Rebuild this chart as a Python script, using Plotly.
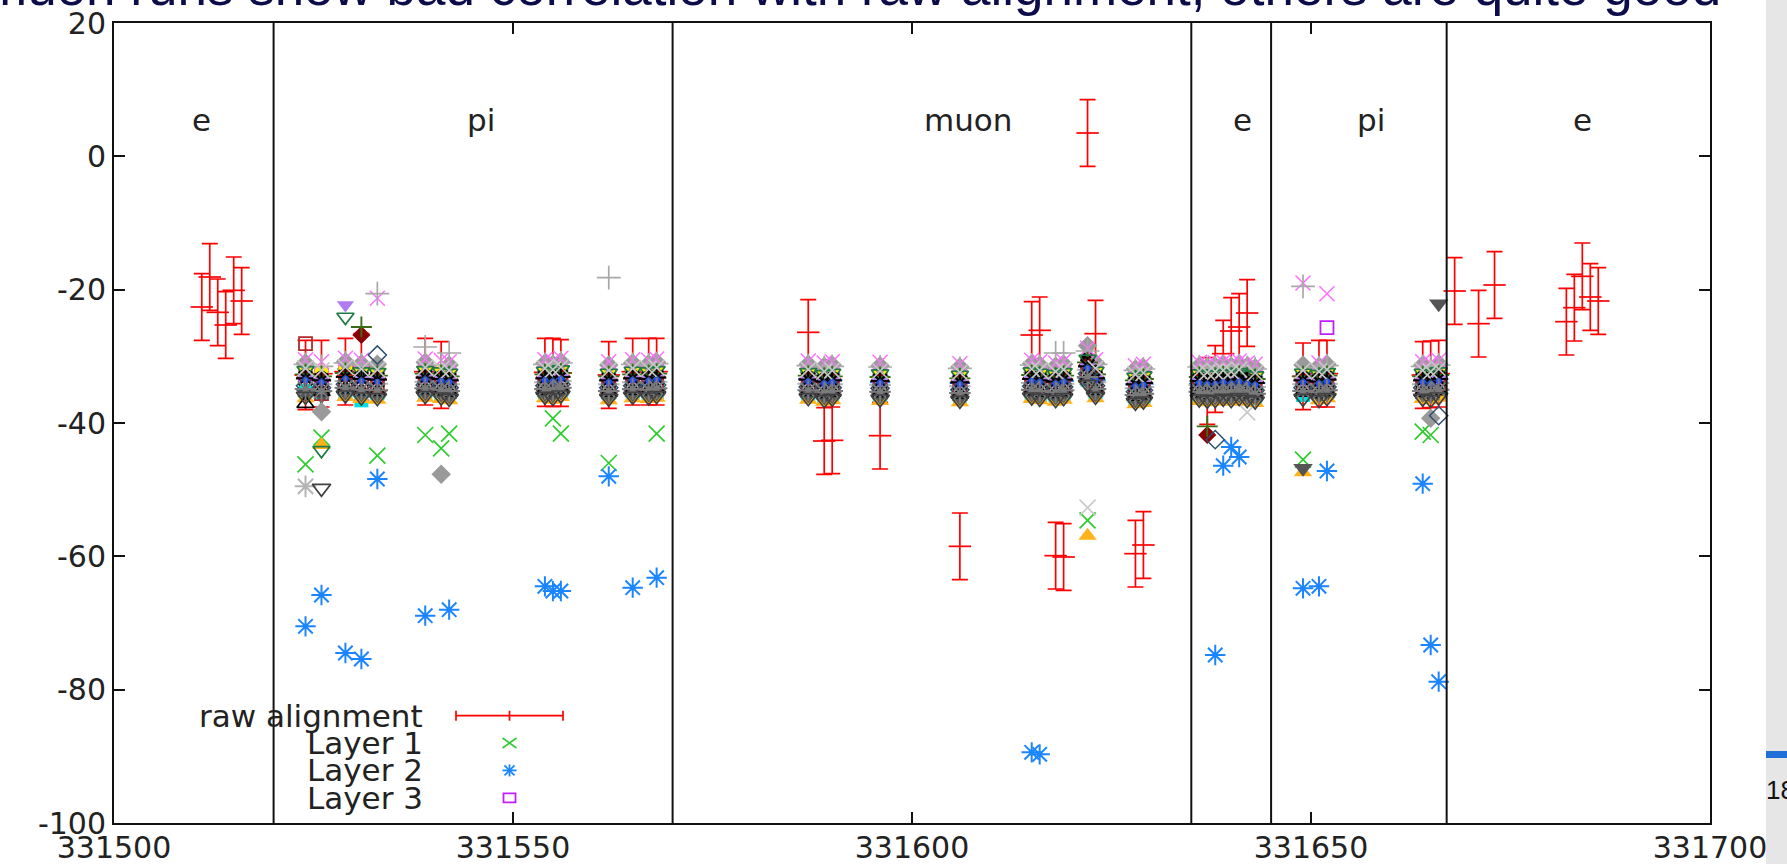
import plotly.graph_objects as go

# ---------------- data ----------------
raw_runs = [331511, 331512, 331513, 331514, 331515, 331516,
            331524, 331526, 331529, 331531, 331539, 331541, 331554, 331555, 331556, 331562, 331565, 331567, 331568,
            331587, 331589, 331590, 331596, 331606, 331615, 331616, 331618, 331619, 331622, 331623, 331628, 331629,
            331637, 331638, 331639, 331640, 331641, 331642,
            331649, 331651, 331652, 331664, 331665, 331666,
            331668, 331671, 331673, 331682, 331683, 331684, 331685, 331686]
raw_vals = [-22.6, -18.1, -23.4, -25.3, -20.1, -21.7,
            -32.8, -32.6, -32.3, -31.6, -32.3, -32.8, -32.4, -32.4, -32.5, -32.8, -32.3, -32.3, -32.3,
            -26.4, -42.7, -42.6, -41.9, -58.5, -26.8, -26.1, -59.9, -60.1, 3.5, -26.6, -59.6, -58.3,
            -35.2, -33.4, -29.6, -26.2, -25.6, -23.5,
            -33.0, -32.6, -32.6, -32.8, -32.7, -32.6,
            -20.2, -25.1, -19.3, -24.8, -22.7, -18.0, -21.1, -21.7]
raw_err = [5.0, 5.0, 5.0, 5.0, 5.0, 5.0,
           5.2, 5.0, 5.0, 5.0, 5.0, 5.0, 5.1, 5.1, 5.0, 5.0, 5.0, 5.0, 5.0,
           4.9, 5.0, 5.0, 5.0, 5.0, 5.0, 5.0, 5.0, 5.0, 5.0, 5.0, 5.0, 5.0,
           5.0, 5.0, 5.0, 5.0, 5.0, 5.0,
           5.0, 5.0, 5.0, 5.0, 5.0, 5.0,
           5.0, 5.0, 5.0, 5.0, 5.0, 5.0, 5.0, 5.0]

layer_runs = [331524, 331526, 331529, 331531, 331533, 331539, 331541, 331542, 331554, 331555, 331556, 331562, 331565, 331567, 331568,
              331587, 331589, 331590, 331596, 331606, 331615, 331616, 331618, 331619, 331622, 331623, 331628, 331629,
              331636, 331637, 331638, 331639, 331640, 331641, 331642, 331643,
              331649, 331651, 331652, 331664, 331665, 331666]

layer1 = [-46.2, -42.2, -33.0, -32.8, -44.9, -41.8, -43.8, -41.6, -33.4, -39.3, -41.6, -46.0, -33.2, -33.0, -41.6,
          -33.5, -34.0, -33.8, -34.0, -34.2, -33.5, -33.8, -34.0, -33.6, -54.6, -33.8, -34.5, -34.3,
          -34.0, -34.5, -34.0, -33.8, -34.0, -33.5, -34.0, -34.2,
          -45.5, -34.0, -33.5, -41.3, -41.8, -34.0]
layer2 = [-70.5, -65.8, -74.5, -75.4, -48.4, -68.9, -33.6, -68.0, -64.5, -65.2, -65.2, -48.0, -64.7, -33.8, -63.2,
          -33.4, -33.8, -33.6, -33.9, -34.0, -89.4, -89.7, -33.8, -33.7, -33.2, -33.6, -34.2, -34.1,
          -34.1, -34.3, -74.8, -46.4, -43.6, -45.1, -33.9, -34.0,
          -64.8, -64.5, -47.2, -49.1, -73.3, -78.8]
layer3 = [-32.6, -32.9, -32.4, -32.8, -33.0, -32.5, -32.7, -32.9, -32.6, -32.8, -32.4, -32.9, -32.6, -32.7, -32.5,
          -32.8, -33.0, -32.9, -33.1, -33.2, -32.7, -32.9, -33.0, -32.8, -31.0, -32.6, -33.4, -33.3,
          -33.0, -33.2, -33.1, -32.9, -33.0, -32.8, -33.1, -33.2,
          -32.9, -33.0, -25.7, -33.0, -32.8, -33.1]
layer4 = [-35.2, -35.6, -35.3, -36.6, -35.5, -35.4, -35.7, -35.3, -35.4, -35.6, -35.2, -35.5, -35.3, -35.6, -35.4,
          -35.6, -35.9, -35.7, -35.8, -35.9, -35.5, -35.8, -35.9, -35.6, -33.5, -35.4, -36.3, -36.1,
          -35.8, -36.0, -35.9, -35.7, -36.0, -35.6, -35.9, -36.1,
          -35.8, -35.9, -35.6, -35.7, -35.9, -35.4]
layer5 = [-32.2, -32.5, -32.0, -32.3, -32.4, -32.1, -32.3, -32.5, -32.2, -32.4, -32.0, -32.5, -32.2, -32.3, -32.1,
          -32.4, -32.6, -32.5, -32.7, -32.8, -32.3, -32.5, -32.6, -32.4, -30.8, -32.2, -33.0, -32.9,
          -32.6, -32.8, -32.7, -32.5, -32.6, -32.4, -32.7, -32.8,
          -32.5, -32.6, -32.3, -32.4, -32.6, -32.2]
layer6 = [-32.8, -33.1, -32.7, -32.9, -33.2, -32.8, -33.0, -33.2, -32.9, -33.1, -32.7, -33.2, -32.9, -33.0, -32.8,
          -33.0, -33.3, -33.1, -33.4, -33.5, -32.9, -33.2, -33.3, -33.0, -30.3, -32.8, -33.7, -33.6,
          -33.2, -33.5, -33.3, -33.1, -33.3, -33.0, -33.4, -33.5,
          -33.0, -33.2, -32.9, -33.0, -33.2, -32.8]
layer7 = [-36.3, -43.3, -36.1, -36.4, -36.5, -36.2, -36.4, -36.6, -36.3, -36.5, -36.1, -36.6, -36.3, -36.4, -36.2,
          -36.5, -36.8, -36.6, -36.7, -36.9, -36.4, -36.6, -36.8, -36.5, -56.9, -36.3, -37.2, -37.0,
          -36.7, -36.9, -36.8, -36.6, -36.8, -36.5, -36.8, -37.0,
          -47.4, -36.6, -36.3, -36.4, -36.6, -36.2]
layer8 = [-35.6, -35.9, -35.4, -35.7, -35.8, -35.5, -35.7, -35.9, -35.6, -35.8, -35.4, -35.9, -35.6, -35.7, -35.5,
          -35.8, -36.1, -35.9, -36.0, -36.2, -35.7, -35.9, -36.1, -35.8, -33.8, -35.6, -36.5, -36.3,
          -36.0, -36.2, -36.1, -35.9, -36.1, -35.8, -36.1, -36.3,
          -46.8, -35.9, -35.6, -35.7, -35.9, -22.1]
layer9 = [-31.0, -38.3, -30.8, -31.1, -31.2, -30.9, -47.7, -31.3, -31.0, -31.2, -30.8, -31.3, -31.0, -31.1, -30.9,
          -31.2, -31.5, -31.3, -31.4, -31.6, -31.1, -31.3, -31.5, -31.2, -28.4, -31.0, -31.9, -31.7,
          -31.4, -31.6, -31.5, -31.3, -31.5, -31.2, -31.5, -31.7,
          -31.3, -31.5, -31.2, -31.3, -39.3, -31.1]
layer10 = [-49.5, -34.2, -33.7, -34.0, -34.1, -33.8, -34.0, -34.2, -33.9, -34.1, -33.7, -34.2, -33.9, -34.0, -33.8,
           -34.1, -34.4, -34.2, -34.3, -34.5, -34.0, -34.2, -34.4, -34.1, -32.0, -33.9, -34.8, -34.6,
           -34.3, -34.5, -34.4, -34.2, -34.4, -34.1, -34.4, -34.6,
           -34.2, -34.4, -34.1, -34.2, -34.4, -34.0]
layer11 = [-30.5, -30.8, -30.3, -30.6, -21.3, -30.4, -30.6, -30.8, -30.5, -30.7, -30.3, -30.8, -30.5, -30.6, -30.4,
           -30.7, -31.0, -30.8, -30.9, -31.1, -30.6, -30.8, -31.0, -30.7, -28.8, -30.5, -31.4, -31.2,
           -30.9, -31.1, -31.0, -30.8, -31.0, -30.7, -31.0, -31.2,
           -19.0, -31.0, -20.6, -30.8, -31.0, -30.6]
layer12 = [-31.2, -31.5, -31.0, -31.3, -20.6, -28.6, -31.3, -29.5, -31.2, -31.4, -31.0, -18.2, -31.2, -31.3, -31.1,
           -31.4, -31.7, -31.5, -31.6, -31.8, -31.3, -31.5, -29.5, -29.5, -29.2, -31.2, -32.1, -31.9,
           -31.6, -31.8, -31.7, -31.5, -31.7, -31.4, -31.7, -31.9,
           -19.5, -31.7, -31.4, -31.5, -31.7, -31.3]
layer13 = [-33.1, -33.4, -32.9, -26.8, -33.3, -33.0, -33.2, -33.4, -33.1, -33.3, -32.9, -33.4, -33.1, -33.2, -33.0,
           -33.3, -33.6, -33.4, -33.5, -33.7, -33.2, -33.4, -33.6, -33.3, -31.3, -33.1, -34.0, -33.8,
           -33.5, -41.8, -33.6, -33.4, -33.6, -33.3, -33.6, -33.8,
           -33.4, -33.6, -33.3, -33.4, -33.6, -33.2]
layer14 = [-32.7, -33.0, -32.5, -25.6, -32.9, -32.6, -32.8, -33.0, -32.7, -32.9, -32.5, -33.0, -32.7, -32.8, -32.6,
           -32.9, -33.2, -33.0, -33.1, -33.3, -32.8, -33.0, -33.2, -32.9, -30.9, -32.7, -33.6, -33.4,
           -33.1, -40.5, -33.2, -33.0, -33.2, -32.9, -33.2, -33.4,
           -33.0, -33.2, -32.9, -33.0, -33.2, -32.8]
layer15 = [-28.1, -35.6, -34.0, -34.3, -34.4, -34.1, -34.3, -34.5, -34.2, -34.4, -34.0, -34.5, -34.2, -34.3, -34.1,
           -34.4, -34.7, -34.5, -34.6, -34.8, -34.3, -34.5, -34.7, -34.4, -32.4, -34.2, -35.1, -34.9,
           -34.6, -34.8, -34.7, -34.5, -34.7, -34.4, -34.7, -34.9,
           -34.5, -34.7, -34.4, -34.5, -34.7, -34.3]
layer16 = [-32.1, -44.1, -24.1, -32.3, -32.4, -32.1, -32.3, -32.5, -32.2, -32.4, -32.0, -32.5, -32.2, -32.3, -32.1,
           -32.4, -32.7, -32.5, -32.6, -32.8, -32.3, -32.5, -32.7, -32.4, -30.4, -32.2, -33.1, -32.9,
           -32.6, -32.8, -32.7, -32.5, -32.7, -32.4, -32.7, -32.9,
           -32.5, -32.7, -32.4, -32.5, -32.7, -32.3]
layer17 = [-37.1, -35.3, -34.9, -35.2, -35.3, -35.0, -35.2, -35.4, -35.1, -35.3, -34.9, -35.4, -35.1, -35.2, -35.0,
           -35.3, -35.6, -35.4, -35.5, -35.7, -35.2, -35.4, -35.6, -35.3, -33.3, -35.1, -36.0, -35.8,
           -35.5, -35.7, -35.6, -35.4, -35.6, -35.3, -35.6, -35.8,
           -35.4, -35.6, -35.3, -35.4, -35.6, -35.2]
layer18 = [-33.4, -33.7, -22.3, -33.5, -33.6, -33.3, -33.5, -33.7, -33.4, -33.6, -33.2, -33.7, -33.4, -33.5, -33.3,
           -33.6, -33.9, -33.7, -33.8, -34.0, -33.5, -33.7, -33.9, -33.6, -31.6, -33.4, -34.3, -34.1,
           -33.8, -34.0, -33.9, -33.7, -33.9, -33.6, -33.9, -34.1,
           -33.7, -33.9, -33.6, -33.7, -33.9, -33.5]
layer19 = [-33.3, -33.6, -33.1, -33.4, -33.5, -33.2, -33.4, -33.6, -33.3, -33.5, -33.1, -33.6, -33.3, -33.4, -33.2,
           -33.5, -33.8, -33.6, -33.7, -33.9, -33.4, -33.6, -33.8, -33.5, -31.5, -33.3, -34.2, -34.0,
           -33.7, -33.9, -33.8, -33.6, -33.8, -33.5, -33.8, -34.0,
           -33.6, -33.8, -33.5, -33.6, -33.8, -33.4]
layer20 = [-34.4, -34.7, -34.2, -34.5, -29.8, -34.3, -34.5, -34.7, -34.4, -34.6, -34.2, -34.7, -34.4, -34.5, -34.3,
           -34.6, -34.9, -34.7, -34.8, -35.0, -34.5, -34.7, -34.9, -34.6, -32.6, -34.4, -35.3, -35.1,
           -34.8, -35.0, -42.5, -34.7, -34.9, -34.6, -34.9, -35.1,
           -34.7, -34.9, -34.6, -34.7, -34.9, -38.9]
layer21 = [-31.8, -32.1, -31.6, -31.9, -32.0, -31.7, -31.9, -32.1, -31.8, -32.0, -31.6, -32.1, -31.8, -31.9, -31.7,
           -32.0, -32.3, -32.1, -32.2, -32.4, -31.9, -32.1, -32.3, -32.0, -52.7, -31.8, -32.7, -32.5,
           -32.2, -32.4, -32.3, -32.1, -32.3, -32.0, -38.4, -32.5,
           -32.1, -32.3, -32.0, -32.1, -32.3, -31.9]
layer22 = [-33.6, -33.9, -33.4, -33.7, -33.8, -33.5, -33.7, -33.9, -33.6, -33.8, -33.4, -33.9, -33.6, -33.7, -33.5,
           -33.8, -34.1, -33.9, -34.0, -34.2, -33.7, -33.9, -34.1, -33.8, -31.8, -33.6, -34.5, -34.3,
           -34.0, -34.2, -34.1, -33.9, -34.1, -33.8, -34.1, -34.3,
           -33.9, -34.1, -33.8, -33.9, -34.1, -33.7]
layer23 = [-34.9, -35.2, -34.7, -35.0, -35.1, -34.8, -35.0, -35.2, -34.9, -35.1, -34.7, -35.2, -34.9, -35.0, -34.8,
           -35.1, -35.4, -35.2, -35.3, -35.5, -35.0, -35.2, -35.4, -35.1, -33.1, -34.9, -35.8, -35.6,
           -35.3, -35.5, -35.4, -35.2, -35.4, -35.1, -35.4, -35.6,
           -35.2, -35.4, -35.1, -35.2, -35.4, -35.0]
layer24 = [-36.0, -49.8, -35.8, -36.1, -36.2, -35.9, -36.1, -36.3, -36.0, -36.2, -35.8, -36.3, -36.0, -36.1, -35.9,
           -36.2, -36.5, -36.3, -36.4, -36.6, -36.1, -36.3, -36.5, -36.2, -34.2, -36.0, -36.9, -36.7,
           -36.4, -36.6, -36.5, -36.3, -36.5, -36.2, -36.5, -36.7,
           -36.3, -36.5, -36.2, -36.3, -36.5, -36.1]

boundaries = [331520, 331570, 331635, 331645, 331667]
region_names = ["e", "pi", "muon", "e", "pi", "e"]
region_x = [331511, 331546, 331607, 331641.4, 331657.5, 331684]
region_y = [5.5, 5.5, 5.5, 5.5, 5.5, 5.5]

x_ticks = [331500, 331550, 331600, 331650, 331700]
y_ticks = [20, 0, -20, -40, -60, -80, -100]

title_text = "muon runs show bad correlation with raw alignment, others are quite good"
page_number = "18"

# ---------------- layout helpers ----------------
W, H = 1787, 864
L, R, T, B = 114, 77, 23, 41
PW, PH = W - L - R, H - T - B


def px(xp):
    return (xp - L) / PW


def py(yp):
    return (H - B - yp) / PH


FONT = "DejaVu Sans"
TXT = "#222222"

fig = go.Figure()

# raw alignment
fig.add_trace(go.Scatter(
    x=raw_runs, y=raw_vals, mode="markers", name="raw alignment",
    marker=dict(symbol="line-ew", size=16, color="#ff0000", line=dict(color="#ff0000", width=1.7)),
    error_y=dict(type="data", array=raw_err, visible=True, color="#ff0000", thickness=1.7, width=8),
    showlegend=False,
))

# (name, values, symbol, color, size, line width)
layer_styles = [
    ("Layer 1", layer1, "x-thin", "#2ecc2e", 16, 1.7),
    ("Layer 2", layer2, "asterisk", "#1a85ff", 17, 2.0),
    ("Layer 3", layer3, "square-open", "#c020ff", 13, 1.8),
    ("Layer 4", layer4, "square", "#00e0e0", 14, 0),
    ("Layer 5", layer5, "square", "#ffee00", 14, 0),
    ("Layer 6", layer6, "circle", "#000000", 13, 0),
    ("Layer 7", layer7, "triangle-up", "#ffb31a", 16, 0),
    ("Layer 8", layer8, "triangle-down", "#555555", 17, 0),
    ("Layer 9", layer9, "diamond", "#9a9a9a", 15, 0),
    ("Layer 10", layer10, "asterisk", "#b4b4b4", 18, 2.0),
    ("Layer 11", layer11, "x-thin", "#ff70ff", 15, 1.5),
    ("Layer 12", layer12, "cross-thin", "#a8a8a8", 17, 1.7),
    ("Layer 13", layer13, "diamond", "#8b0000", 14, 0),
    ("Layer 14", layer14, "cross-thin", "#3a6e14", 15, 1.9),
    ("Layer 15", layer15, "square-open", "#b02a2a", 13, 1.8),
    ("Layer 16", layer16, "triangle-down-open", "#1f7a44", 15, 1.7),
    ("Layer 17", layer17, "triangle-up-open", "#000000", 15, 1.7),
    ("Layer 18", layer18, "triangle-down", "#b07cf0", 15, 0),
    ("Layer 19", layer19, "asterisk", "#000000", 16, 2.2),
    ("Layer 20", layer20, "diamond-open", "#2f4f6f", 14, 1.5),
    ("Layer 21", layer21, "x-thin", "#c8c8c8", 16, 1.6),
    ("Layer 22", layer22, "circle", "#1f4fff", 6, 0),
    ("Layer 23", layer23, "asterisk", "#7a7a7a", 18, 2.0),
    ("Layer 24", layer24, "triangle-down-open", "#404040", 16, 1.7),
]

for name, vals, sym, col, size, lw in layer_styles:
    fig.add_trace(go.Scatter(
        x=layer_runs, y=vals, mode="markers", name=name,
        marker=dict(symbol=sym, size=size, color=col, line=dict(color=col, width=lw)),
        showlegend=False,
    ))

shapes = []
for b in boundaries:
    shapes.append(dict(type="line", xref="x", yref="paper", x0=b, x1=b, y0=0, y1=1,
                       line=dict(color="#111111", width=2)))

# right-hand slide strip
shapes.append(dict(type="rect", xref="paper", yref="paper", x0=px(1766), x1=px(1790), y0=py(866), y1=py(-2),
                   fillcolor="#e6e6e6", line=dict(width=0), layer="below"))
shapes.append(dict(type="rect", xref="paper", yref="paper", x0=px(1766), x1=px(1790), y0=py(758), y1=py(751),
                   fillcolor="#1f6fd6", line=dict(width=0)))

# manual gnuplot-style key (text right, sample to the right)
key_rows = [715.7, 743.0, 770.4, 797.8]
kx = 509.5
shapes.append(dict(type="line", xref="paper", yref="paper", x0=px(456), x1=px(563), y0=py(key_rows[0]), y1=py(key_rows[0]),
                   line=dict(color="#ff0000", width=1.7)))
for tx in (456, kx, 563):
    shapes.append(dict(type="line", xref="paper", yref="paper", x0=px(tx), x1=px(tx),
                       y0=py(key_rows[0] - 5), y1=py(key_rows[0] + 5), line=dict(color="#ff0000", width=1.7)))
r = key_rows[1]
shapes.append(dict(type="line", xref="paper", yref="paper", x0=px(kx - 7), x1=px(kx + 7), y0=py(r - 5), y1=py(r + 5),
                   line=dict(color="#2ecc2e", width=1.6)))
shapes.append(dict(type="line", xref="paper", yref="paper", x0=px(kx - 7), x1=px(kx + 7), y0=py(r + 5), y1=py(r - 5),
                   line=dict(color="#2ecc2e", width=1.6)))
r = key_rows[2]
for (dx, dy) in ((7, 0), (0, 6), (5, 5), (5, -5)):
    shapes.append(dict(type="line", xref="paper", yref="paper", x0=px(kx - dx), x1=px(kx + dx),
                       y0=py(r - dy), y1=py(r + dy), line=dict(color="#1a85ff", width=1.8)))
r = key_rows[3]
shapes.append(dict(type="rect", xref="paper", yref="paper", x0=px(kx - 6), x1=px(kx + 6), y0=py(r + 4.5), y1=py(r - 4.5),
                   line=dict(color="#c020ff", width=1.8)))

annotations = []
for nm, xv, yv in zip(region_names, region_x, region_y):
    annotations.append(dict(x=xv, y=yv, xref="x", yref="y", text=nm, showarrow=False,
                            font=dict(family=FONT, size=31, color=TXT)))
key_names = ["raw alignment", "Layer 1", "Layer 2", "Layer 3"]
for nm, r in zip(key_names, key_rows):
    annotations.append(dict(x=px(425), y=py(r), xref="paper", yref="paper", text=nm, showarrow=False,
                            xanchor="right", yanchor="middle", font=dict(family=FONT, size=31, color=TXT)))
annotations.append(dict(x=px(1723), y=py(18), xref="paper", yref="paper", text=title_text, showarrow=False,
                        xanchor="right", yanchor="bottom", font=dict(family="Liberation Sans", size=53, color="#0c0c4a")))
annotations.append(dict(x=px(1764), y=py(790), xref="paper", yref="paper", text=page_number, showarrow=False,
                        xanchor="left", yanchor="middle", font=dict(family="Liberation Sans", size=26, color="#111111")))

axis_common = dict(showgrid=False, zeroline=False, showline=True, linecolor="#111111", linewidth=2,
                   mirror="ticks", ticks="inside", ticklen=11, tickwidth=1.5, tickcolor="#111111",
                   automargin=False, tickfont=dict(family=FONT, size=30, color=TXT))

fig.update_layout(
    width=W, height=H,
    margin=dict(l=L, r=R, t=T, b=B, pad=0, autoexpand=False),
    paper_bgcolor="white", plot_bgcolor="white",
    showlegend=False,
    shapes=shapes, annotations=annotations,
    xaxis=dict(range=[331500, 331700], tickvals=x_ticks, ticktext=[str(v) for v in x_ticks],
               ticklabelstandoff=-3, **axis_common),
    yaxis=dict(range=[-100, 20], tickvals=y_ticks, ticktext=[str(v) for v in y_ticks],
               ticklabelstandoff=0, **axis_common),
)

fig.write_html("out.html")
